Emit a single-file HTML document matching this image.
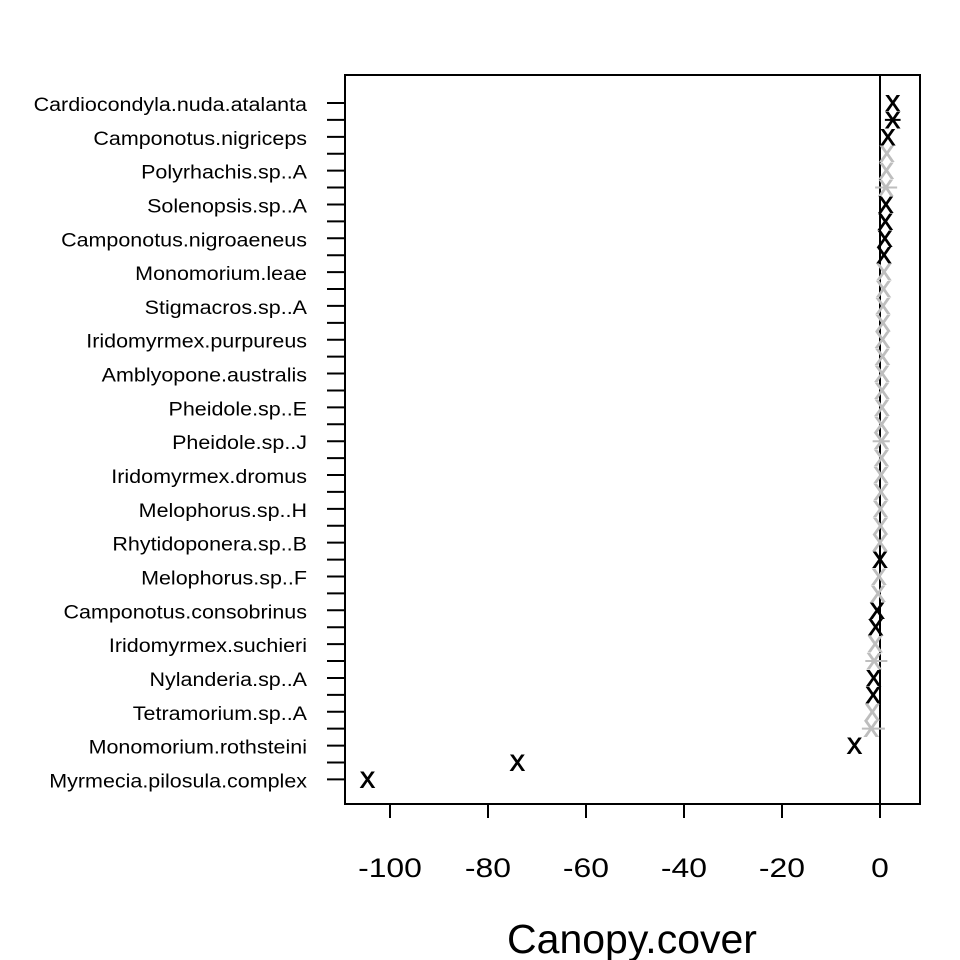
<!DOCTYPE html>
<html><head><meta charset="utf-8"><style>
html,body{margin:0;padding:0;background:#fff;}
svg{display:block;font-family:"Liberation Sans",Arial,sans-serif;}
</style></head><body>
<svg id="chart" width="960" height="960" viewBox="0 0 960 960">
<g id="g"></g>
</svg>
<script>
const species = ["Cardiocondyla.nuda.atalanta","Camponotus.nigriceps","Polyrhachis.sp..A","Solenopsis.sp..A","Camponotus.nigroaeneus","Monomorium.leae","Stigmacros.sp..A","Iridomyrmex.purpureus","Amblyopone.australis","Pheidole.sp..E","Pheidole.sp..J","Iridomyrmex.dromus","Melophorus.sp..H","Rhytidoponera.sp..B","Melophorus.sp..F","Camponotus.consobrinus","Iridomyrmex.suchieri","Nylanderia.sp..A","Tetramorium.sp..A","Monomorium.rothsteini","Myrmecia.pilosula.complex"];
const estimates = [2.6,2.6,1.6,1.4,1.3,1.2,1.2,1.1,1.0,0.8,0.8,0.7,0.6,0.6,0.5,0.5,0.4,0.4,0.4,0.3,0.3,0.3,0.2,0.2,0.1,0.1,0.0,0.0,-0.2,-0.4,-0.6,-0.9,-1.0,-1.2,-1.3,-1.4,-1.6,-1.8,-5.2,-74,-104.6];
const significant = [1,1,1,0,0,0,1,1,1,1,0,0,0,0,0,0,0,0,0,0,0,0,0,0,0,0,0,1,0,0,1,1,0,0,1,1,0,0,1,1,1];
const barRows = [1,5,20,33,37];
const barLow = [1.0,-1.0,-1.5,-3.0,-3.7];
const barHigh = [4.2,3.5,2.0,1.5,1.0];
const xTicks = [-100,-80,-60,-40,-20,0];

const NS="http://www.w3.org/2000/svg";
const g=document.getElementById('g');
const x0=345,x1=920,y0=75,y1=804;
const xs=v=>880+v*4.9;
const ys=i=>103+i*16.91;
function el(t,a){const e=document.createElementNS(NS,t);for(const k in a)e.setAttribute(k,a[k]);g.appendChild(e);return e;}

let e=el('rect',{x:x0,y:y0,width:x1-x0,height:y1-y0,fill:'none',stroke:'#000','stroke-width':2});


e=el('line',{x1:xs(0),x2:xs(0),y1:y0,y2:y1,stroke:'#000','stroke-width':2});



for(let i=0;i<estimates.length;i++){
  e=el('line',{x1:327,x2:x0,y1:ys(i),y2:ys(i),stroke:'#000','stroke-width':2});
  
  
}
species.forEach((s,k)=>{
  e=el('text',{x:307,y:ys(k*2)+8,'text-anchor':'end','font-size':19,fill:'#000'});
  e.textContent=s;
  
  
  const w=e.getComputedTextLength();
  e.setAttribute('textLength',(w*1.13).toFixed(1));
  e.setAttribute('lengthAdjust','spacingAndGlyphs');
});
barRows.forEach((r,k)=>{
  e=el('line',{x1:xs(barLow[k]),x2:xs(barHigh[k]),y1:ys(r),y2:ys(r),stroke:significant[r]?'#000':'#bebebe','stroke-width':2});
  
  
});
estimates.forEach((v,i)=>{
  const c=significant[i]?'#000':'#bebebe';
  e=el('text',{x:xs(v),y:ys(i)+8,'text-anchor':'middle','font-size':22,fill:c,stroke:c,'stroke-width':1});
  e.textContent='X';
  
  
});
xTicks.forEach(t=>{
  e=el('line',{x1:xs(t),x2:xs(t),y1:y1,y2:y1+14,stroke:'#000','stroke-width':2});
  
  
  e=el('text',{x:xs(t),y:877,'text-anchor':'middle','font-size':27,fill:'#000'});
  e.textContent=t;
  
  
  const w=e.getComputedTextLength();
  e.setAttribute('textLength',(w*1.18).toFixed(1));
  e.setAttribute('lengthAdjust','spacingAndGlyphs');
});
e=el('text',{x:632,y:953,'text-anchor':'middle','font-size':41,fill:'#000'});
e.textContent='Canopy.cover';


</script>
</body></html>
